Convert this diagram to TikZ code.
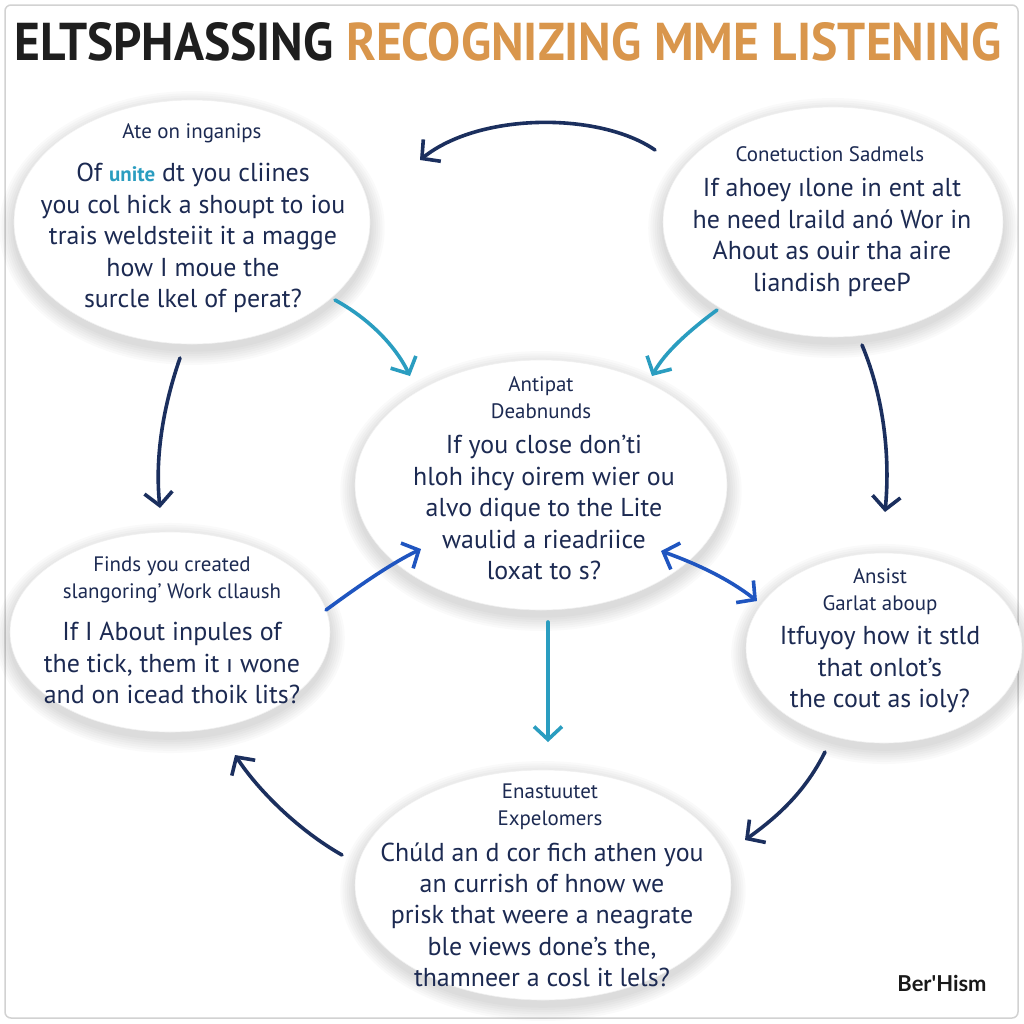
\documentclass[tikz,border=0pt]{standalone}
\usepackage{fontspec}
\setmainfont{PT Sans}
\newfontfamily\signfont{Lato}
\usetikzlibrary{arrows.meta,shapes.geometric}
\definecolor{navy}{HTML}{1B2F5E}
\definecolor{txt}{HTML}{1C2A52}
\definecolor{teal}{HTML}{2A9DC0}
\definecolor{bblue}{HTML}{1F55C0}
\definecolor{orng}{HTML}{D9964C}
\definecolor{ttl}{HTML}{1E1E1E}
\newcommand{\softshadow}[4]{%
  \foreach \k in {1,...,7}{%
    \fill[black,opacity=0.018] (#1,#2+6) ellipse ({#3+\k*2.2bp} and {#4+\k*2.2bp});}}
\tikzset{
  bubble/.style={ellipse, fill=white, draw=gray!12, line width=0.6bp, inner sep=0pt},
  head/.style={text=txt, align=center, font=\fontsize{21}{27}\selectfont},
  body/.style={text=txt, align=center, font=\fontsize{26}{31.5}\selectfont},
  arr/.style={line width=3.6bp, line cap=round, -{Straight Barb[length=13bp,width=28bp,line width=3.6bp]}},
  darr/.style={line width=3.6bp, line cap=round, {Straight Barb[length=13bp,width=28bp,line width=3.6bp]}-{Straight Barb[length=13bp,width=28bp,line width=3.6bp]}},
}
\begin{document}
\begin{tikzpicture}[x=1bp,y=-1bp]
\useasboundingbox (0,0) rectangle (1024,1024);
\fill[white] (0,0) rectangle (1024,1024);
\draw[gray!35, line width=1.5bp, rounded corners=6bp] (5,5) rectangle (1018,1018);

% title
\node[anchor=west, inner sep=0pt] (title) at (14,42) {\resizebox{987bp}{38bp}{\bfseries\textcolor{ttl}{ELTSPHASSING}\ \textcolor{orng}{RECOGNIZING MME LISTENING}}};

% shadows
\softshadow{192}{222}{178}{122}
\softshadow{833}{222}{170}{115}
\softshadow{541}{485}{186}{125}
\softshadow{170}{632}{160}{100}
\softshadow{884}{648}{138}{95}
\softshadow{543}{885}{188}{115}

% bubbles
\node[bubble, minimum width=356bp, minimum height=244bp] (tl) at (192,222) {};
\node[bubble, minimum width=340bp, minimum height=230bp] (tr) at (833,222) {};
\node[bubble, minimum width=372bp, minimum height=250bp] (ce) at (541,485) {};
\node[bubble, minimum width=320bp, minimum height=200bp] (ml) at (170,632) {};
\node[bubble, minimum width=276bp, minimum height=190bp] (mr) at (884,648) {};
\node[bubble, minimum width=376bp, minimum height=230bp] (bo) at (543,885) {};

% texts
\node[head] (tlh) at (192,133) {Ate on inganips};
\node[body, anchor=north] (tlb) at (193,160) {Of {\color{teal}\bfseries\fontsize{21}{31.5}\selectfont unite} dt you cliines\\you col hick a shoupt to iou\\trais weldsteiit it a magge\\how I moue the\\surcle lkel of perat?};

\node[head] (trh) at (830,154) {Conetuction Sadmels};
\node[body, anchor=north] (trb) at (832,175) {If ahoey ılone in ent alt\\he need lraild anó Wor in\\Ahout as ouir tha aire\\liandish preeP};

\node[head] (ceh) at (541,398) {Antipat\\Deabnunds};
\node[body, anchor=north] (ceb) at (544,432) {If you close don'ti\\hloh ihcy oirem wier ou\\alvo dique to the Lite\\waulid a rieadriice\\loxat to s?};

\node[head] (mlh) at (172,580) {Finds you created\\slangoring' Work cllaush};
\node[body, anchor=north] (mlb) at (172,619) {If I About inpules of\\the tick, them it ı wone\\and on icead thoik lits?};

\node[head] (mrh) at (880,592) {Ansist\\Garlat aboup};
\node[body, anchor=north] (mrb) at (880,623) {Itfuyoy how it stld\\that onlot's\\the cout as ioly?};

\node[head] (boh) at (550,807) {Enastuutet\\Expelomers};
\node[body, anchor=north] (bob) at (542,839) {Chúld an d cor fich athen you\\an currish of hnow we\\prisk that weere a neagrate\\ble views done's the,\\thamneer a cosl it lels?};

\node[font=\signfont\bfseries\fontsize{22}{24}\selectfont, text=black!90] (sig) at (942,983) {Ber'Hism};

% connector coordinates
\coordinate (a1s) at (655,150); \coordinate (a1e) at (420,160);
\coordinate (a2s) at (180,358); \coordinate (a2e) at (160,508);
\coordinate (a3s) at (862,345); \coordinate (a3e) at (885,512);
\coordinate (a4s) at (335,300); \coordinate (a4e) at (410,376);
\coordinate (a5s) at (717,310); \coordinate (a5e) at (652,376);
\coordinate (a6s) at (326,610); \coordinate (a6e) at (421,549);
\coordinate (a7s) at (661,551); \coordinate (a7e) at (757,601);
\coordinate (a8s) at (548,622); \coordinate (a8e) at (548,742);
\coordinate (a9s) at (342,855); \coordinate (a9e) at (235,755);
\coordinate (a10s) at (825,752); \coordinate (a10e) at (745,840);

\draw[arr, navy] (a1s) .. controls (600,112) and (480,112) .. (a1e);
\draw[arr, navy] (a2s) .. controls (162,410) and (155,460) .. (a2e);
\draw[arr, navy] (a3s) .. controls (885,400) and (890,460) .. (a3e);
\draw[arr, teal] (a4s) .. controls (368,318) and (395,345) .. (a4e);
\draw[arr, teal] (a5s) .. controls (690,330) and (665,352) .. (a5e);
\draw[arr, bblue] (a6s) .. controls (360,585) and (392,563) .. (a6e);
\draw[darr, bblue] (a7s) .. controls (700,565) and (730,580) .. (a7e);
\draw[arr, teal] (a8s) -- (a8e);
\draw[arr, navy] (a9s) .. controls (298,830) and (258,790) .. (a9e);
\draw[arr, navy] (a10s) .. controls (806,790) and (780,815) .. (a10e);
\end{tikzpicture}
\end{document}
